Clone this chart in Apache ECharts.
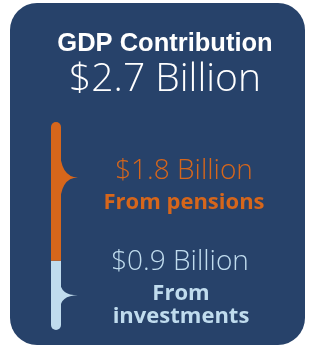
<!DOCTYPE html>
<html>
<head>
<meta charset="utf-8">
<script src="https://cdn.jsdelivr.net/npm/echarts@6/dist/echarts.min.js"></script>
<style>
  html, body { margin: 0; padding: 0; background: #fff; }
  #main { width: 309px; height: 347px; }
</style>
</head>
<body>
<div id="main"></div>
<script>
// values in billions
const total = 2.7;
const sources = ['From\ninvestments', 'From pensions'];
const values = [0.9, 1.8];
const colors = ['#c0dcee', '#d6661b'];
// where the brace tip sits along each segment (0 = bottom, 1 = top)
const tipAt = [0.5, 0.6];

const navy = '#27426a';
const chart = echarts.init(document.getElementById('main'));

// stack bottom values
let bases = [];
let acc = 0;
for (let i = 0; i < values.length; i++) {
	bases.push(acc);
	acc += values[i];
}

const braceData = values.map((v, i) => [0, bases[i], bases[i] + v, tipAt[i], i]);

const money = v => '$' + v.toFixed(1) + ' Billion';

chart.setOption({
	animation: false,
	graphic: [
		{
			type: 'rect',
			z: -10,
			shape: { x: 10, y: 3, width: 295, height: 342, r: 27 },
			style: { fill: navy }
		},
		{
			type: 'text', x: 165, y: 31,
			style: { text: 'GDP Contribution', fill: '#fff', font: 'bold 25.5px "Liberation Sans", Arial, sans-serif', align: 'center' }
		},
		{
			type: 'text', x: 165, y: 60,
			style: { text: money(total), fill: '#fff', font: '300 39px "Open Sans", Roboto, sans-serif', align: 'center' }
		},
		{
			type: 'text', x: 184, y: 157,
			style: { text: money(values[1]), fill: colors[1], font: '300 28px "Open Sans", sans-serif', align: 'center' }
		},
		{
			type: 'text', x: 184, y: 192,
			style: { text: sources[1], fill: colors[1], font: 'bold 22px "Open Sans", sans-serif', align: 'center' }
		},
		{
			type: 'text', x: 180, y: 248,
			style: { text: money(values[0]), fill: colors[0], font: '300 28px "Open Sans", sans-serif', align: 'center' }
		},
		{
			type: 'text', x: 181, y: 282,
			style: { text: sources[0], fill: colors[0], font: 'bold 22px "Open Sans", sans-serif', align: 'center', lineHeight: 23 }
		}
	],
	grid: { left: 51, width: 10, top: 122, bottom: 17 },
	xAxis: { type: 'category', data: ['GDP'], show: false },
	yAxis: { type: 'value', min: 0, max: total, show: false },
	series: [
		{
			type: 'bar', stack: 'gdp', barWidth: '100%',
			data: [values[0]],
			itemStyle: { color: colors[0], borderRadius: [0, 0, 5, 5] }
		},
		{
			type: 'bar', stack: 'gdp', barWidth: '100%',
			data: [values[1]],
			itemStyle: { color: colors[1], borderRadius: [5, 5, 0, 0] }
		},
		{
			type: 'custom',
			data: braceData,
			renderItem: function (params, api) {
				const lo = api.coord([0, api.value(1)]);
				const hi = api.coord([0, api.value(2)]);
				const frac = api.value(3);
				const idx = api.value(4);
				const edge = lo[0] + 4;
				const yTip = lo[1] + (hi[1] - lo[1]) * frac;
				const half = Math.abs(lo[1] - hi[1]) * 0.21;
				const xTip = edge + 18;
				const path = 'M' + edge + ' ' + (yTip - half) +
					' Q' + edge + ' ' + yTip + ' ' + xTip + ' ' + yTip +
					' Q' + edge + ' ' + yTip + ' ' + edge + ' ' + (yTip + half) + ' Z';
				return {
					type: 'path',
					shape: { pathData: path },
					style: { fill: colors[idx] }
				};
			}
		}
	]
});
</script>
</body>
</html>
